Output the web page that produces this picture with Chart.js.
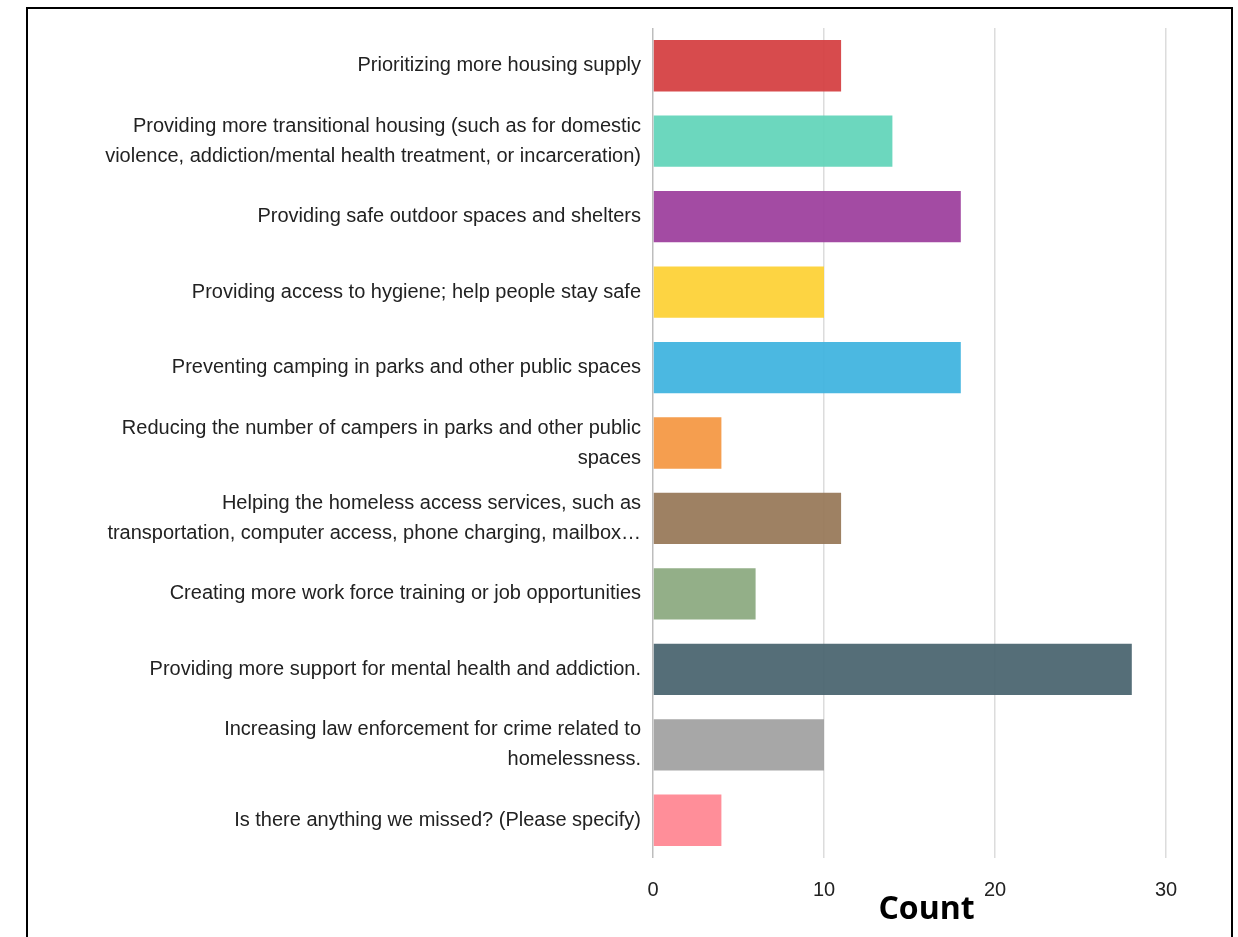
<!DOCTYPE html>
<html>
<head>
<meta charset="utf-8">
<script src="https://cdn.jsdelivr.net/npm/chart.js@4"></script>
<style>
  html, body { margin: 0; padding: 0; background: #fff; width: 1238px; height: 937px; overflow: hidden; }
  #frame { position: absolute; left: 26px; top: 7px; width: 1203px; height: 960px; border: 2.5px solid #000; }
  #wrap { position: absolute; left: 0; top: 0; width: 1238px; height: 937px; }
</style>
</head>
<body>
<div id="frame"></div>
<div id="wrap"><canvas id="c" width="1238" height="937"></canvas></div>
<script>
const categories = [
  ["Prioritizing more housing supply"],
  ["Providing more transitional housing (such as for domestic", "violence, addiction/mental health treatment, or incarceration)"],
  ["Providing safe outdoor spaces and shelters"],
  ["Providing access to hygiene; help people stay safe"],
  ["Preventing camping in parks and other public spaces"],
  ["Reducing the number of campers in parks and other public", "spaces"],
  ["Helping the homeless access services, such as", "transportation, computer access, phone charging, mailbox…"],
  ["Creating more work force training or job opportunities"],
  ["Providing more support for mental health and addiction."],
  ["Increasing law enforcement for crime related to", "homelessness."],
  ["Is there anything we missed? (Please specify)"]
];
const counts = [11, 14, 18, 10, 18, 4, 11, 6, 28, 10, 4];
const barColors = [
  "rgba(212,60,62,0.92)", "rgba(96,212,185,0.92)", "rgba(155,60,155,0.92)", "rgba(253,208,50,0.92)",
  "rgba(60,178,222,0.92)", "rgba(244,150,64,0.92)", "rgba(150,118,86,0.92)", "rgba(138,168,126,0.92)",
  "rgba(70,98,108,0.92)", "rgba(160,160,160,0.92)", "rgba(255,132,144,0.92)"
];
const xTicks = [0, 10, 20, 30];
const axisTitle = "Count";

const countTitle = {
  id: "countTitle",
  afterDraw(chart) {
    const ctx = chart.ctx, a = chart.chartArea;
    ctx.save();
    ctx.font = "bold 32px 'Open Sans'";
    ctx.fillStyle = "#000";
    ctx.textAlign = "center";
    ctx.textBaseline = "middle";
    ctx.fillText(axisTitle, (a.left + a.right) / 2 + 17, a.bottom + 52);
    ctx.restore();
  }
};

new Chart(document.getElementById("c"), {
  type: "bar",
  data: {
    labels: categories,
    datasets: [{
      data: counts,
      backgroundColor: barColors,
      borderWidth: 0,
      categoryPercentage: 0.68,
      barPercentage: 1.0
    }]
  },
  options: {
    indexAxis: "y",
    responsive: false,
    animation: false,
    layout: { padding: { top: 28, right: 72, bottom: 0, left: 40 } },
    plugins: { legend: { display: false }, tooltip: { enabled: false } },
    scales: {
      x: {
        min: 0, max: 30,
        afterBuildTicks: (s) => { s.ticks = xTicks.map(v => ({ value: v })); },
        grid: { color: (ctx) => ctx.tick && ctx.tick.value === 0 ? "#bdbdbd" : "#dcdcdc", lineWidth: 1.5, drawTicks: false },
        border: { display: false },
        ticks: { color: "#222", font: { family: "Liberation Sans", size: 20 }, padding: 20 },
        title: { display: false },
        afterFit: (s) => { s.height = 79; }
      },
      y: {
        grid: { display: false, drawTicks: false },
        border: { display: false },
        ticks: { color: "#222", font: { family: "Liberation Sans", size: 20, lineHeight: 1.5 }, padding: 12 },
        afterFit: (s) => { s.width = 653 - 40; }
      }
    }
  },
  plugins: [countTitle]
});
</script>
</body>
</html>
